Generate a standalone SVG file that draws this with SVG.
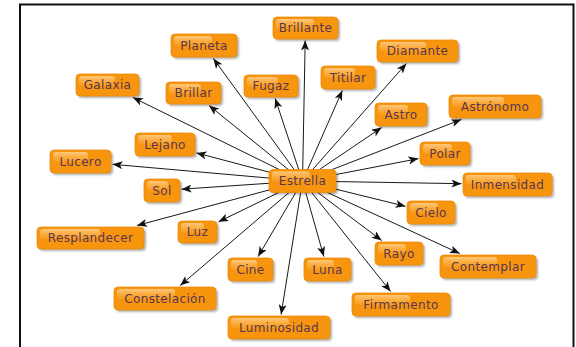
<svg xmlns="http://www.w3.org/2000/svg" width="576" height="347" viewBox="0 0 576 347">
<style>
.s{fill:#000;opacity:.3;filter:url(#blur)}
.b{fill:#f8950f;stroke:#ec8a05;stroke-width:.8}
.h{fill:url(#hl)}
text{font-family:"DejaVu Sans",Verdana,sans-serif;font-size:12px;fill:#5a3652;text-anchor:middle;letter-spacing:.35px}
.e line{stroke:#1a1a1a;stroke-width:1;marker-end:url(#ah)}
.frame{stroke:#111;stroke-width:2;fill:none}
</style>
<defs>
<filter id="blur" x="-20%" y="-30%" width="140%" height="160%"><feGaussianBlur stdDeviation="1"/></filter>
<linearGradient id="hl" x1="0" y1="0" x2="0" y2="1">
<stop offset="0" stop-color="#ffd9a0" stop-opacity=".75"/>
<stop offset="1" stop-color="#ffc060" stop-opacity=".15"/>
</linearGradient>
<marker id="ah" markerUnits="userSpaceOnUse" markerWidth="10" markerHeight="8" refX="10" refY="4" orient="auto">
<path d="M0,0 L10,4 L0,8 L2.5,4 z" fill="#111"/>
</marker>
</defs>
<path class="frame" d="M20,347 V4.5 H573.5 V347"/>
<g class="e" id="connectors">
<line x1="302.5" y1="181" x2="305.2" y2="40.5"/>
<line x1="302.5" y1="181" x2="213.4" y2="58.5"/>
<line x1="302.5" y1="181" x2="406.4" y2="63.5"/>
<line x1="302.5" y1="181" x2="132.9" y2="97.5"/>
<line x1="302.5" y1="181" x2="209" y2="105.5"/>
<line x1="302.5" y1="181" x2="275.2" y2="98.5"/>
<line x1="302.5" y1="181" x2="342.3" y2="90.5"/>
<line x1="302.5" y1="181" x2="381.7" y2="127.5"/>
<line x1="302.5" y1="181" x2="461.4" y2="119.5"/>
<line x1="302.5" y1="181" x2="196.5" y2="152.9"/>
<line x1="302.5" y1="181" x2="112.5" y2="164.3"/>
<line x1="302.5" y1="181" x2="418.5" y2="158.6"/>
<line x1="302.5" y1="181" x2="181.5" y2="189.2"/>
<line x1="302.5" y1="181" x2="461.5" y2="183.7"/>
<line x1="302.5" y1="181" x2="405.5" y2="206.3"/>
<line x1="302.5" y1="181" x2="137" y2="225.5"/>
<line x1="302.5" y1="181" x2="218.5" y2="221.8"/>
<line x1="302.5" y1="181" x2="258.1" y2="256.5"/>
<line x1="302.5" y1="181" x2="323.8" y2="256.5"/>
<line x1="302.5" y1="181" x2="381.7" y2="240.5"/>
<line x1="302.5" y1="181" x2="459.8" y2="253.5"/>
<line x1="302.5" y1="181" x2="180.2" y2="285.5"/>
<line x1="302.5" y1="181" x2="390.6" y2="291.5"/>
<line x1="302.5" y1="181" x2="281.1" y2="314.5"/>
</g>
<g id="n-brillante"><rect class="s" x="275" y="19" width="65" height="22" rx="4"/><rect class="b" x="273" y="17" width="65" height="22" rx="4"/><rect class="h" x="276" y="19" width="38" height="10" rx="3"/><text x="305.5" y="32">Brillante</text></g>
<g id="n-planeta"><rect class="s" x="173" y="36" width="66" height="23" rx="4"/><rect class="b" x="171" y="34" width="66" height="23" rx="4"/><rect class="h" x="174" y="36" width="38" height="10" rx="3"/><text x="204" y="49.5">Planeta</text></g>
<g id="n-diamante"><rect class="s" x="379" y="42" width="81" height="22" rx="4"/><rect class="b" x="377" y="40" width="81" height="22" rx="4"/><rect class="h" x="380" y="42" width="46" height="10" rx="3"/><text x="417.5" y="55">Diamante</text></g>
<g id="n-galaxia"><rect class="s" x="78" y="76" width="63" height="22" rx="4"/><rect class="b" x="76" y="74" width="63" height="22" rx="4"/><rect class="h" x="79" y="76" width="36" height="10" rx="3"/><text x="107.5" y="89">Galaxia</text></g>
<g id="n-brillar"><rect class="s" x="168" y="84" width="55" height="22" rx="4"/><rect class="b" x="166" y="82" width="55" height="22" rx="4"/><rect class="h" x="169" y="84" width="32" height="10" rx="3"/><text x="193.5" y="97">Brillar</text></g>
<g id="n-fugaz"><rect class="s" x="246" y="77" width="54" height="22" rx="4"/><rect class="b" x="244" y="75" width="54" height="22" rx="4"/><rect class="h" x="247" y="77" width="31" height="10" rx="3"/><text x="271" y="90">Fugaz</text></g>
<g id="n-titilar"><rect class="s" x="323" y="68" width="54" height="23" rx="4"/><rect class="b" x="321" y="66" width="54" height="23" rx="4"/><rect class="h" x="324" y="68" width="31" height="10" rx="3"/><text x="348" y="81.5">Titilar</text></g>
<g id="n-astro"><rect class="s" x="377" y="105" width="52" height="23" rx="4"/><rect class="b" x="375" y="103" width="52" height="23" rx="4"/><rect class="h" x="378" y="105" width="30" height="10" rx="3"/><text x="401" y="118.5">Astro</text></g>
<g id="n-astronomo"><rect class="s" x="451" y="97" width="92" height="23" rx="4"/><rect class="b" x="449" y="95" width="92" height="23" rx="4"/><rect class="h" x="452" y="97" width="52" height="10" rx="3"/><text x="495" y="110.5">Astrónomo</text></g>
<g id="n-lejano"><rect class="s" x="137" y="135" width="60" height="23" rx="4"/><rect class="b" x="135" y="133" width="60" height="23" rx="4"/><rect class="h" x="138" y="135" width="34" height="10" rx="3"/><text x="165" y="148.5">Lejano</text></g>
<g id="n-lucero"><rect class="s" x="52" y="152" width="61" height="23" rx="4"/><rect class="b" x="50" y="150" width="61" height="23" rx="4"/><rect class="h" x="53" y="152" width="35" height="10" rx="3"/><text x="80.5" y="165.5">Lucero</text></g>
<g id="n-polar"><rect class="s" x="422" y="144" width="50" height="23" rx="4"/><rect class="b" x="420" y="142" width="50" height="23" rx="4"/><rect class="h" x="423" y="144" width="29" height="10" rx="3"/><text x="445" y="157.5">Polar</text></g>
<g id="n-sol"><rect class="s" x="146" y="181" width="36" height="23" rx="4"/><rect class="b" x="144" y="179" width="36" height="23" rx="4"/><rect class="h" x="147" y="181" width="21" height="10" rx="3"/><text x="162" y="194.5">Sol</text></g>
<g id="n-inmensidad"><rect class="s" x="465" y="175" width="89" height="23" rx="4"/><rect class="b" x="463" y="173" width="89" height="23" rx="4"/><rect class="h" x="466" y="175" width="50" height="10" rx="3"/><text x="507.5" y="188.5">Inmensidad</text></g>
<g id="n-cielo"><rect class="s" x="409" y="203" width="48" height="23" rx="4"/><rect class="b" x="407" y="201" width="48" height="23" rx="4"/><rect class="h" x="410" y="203" width="28" height="10" rx="3"/><text x="431" y="216.5">Cielo</text></g>
<g id="n-resplandecer"><rect class="s" x="39" y="229" width="107" height="22" rx="4"/><rect class="b" x="37" y="227" width="107" height="22" rx="4"/><rect class="h" x="40" y="229" width="60" height="10" rx="3"/><text x="90.5" y="242">Resplandecer</text></g>
<g id="n-luz"><rect class="s" x="180" y="223" width="39" height="22" rx="4"/><rect class="b" x="178" y="221" width="39" height="22" rx="4"/><rect class="h" x="181" y="223" width="23" height="10" rx="3"/><text x="197.5" y="236">Luz</text></g>
<g id="n-cine"><rect class="s" x="230" y="260" width="45" height="23" rx="4"/><rect class="b" x="228" y="258" width="45" height="23" rx="4"/><rect class="h" x="231" y="260" width="26" height="10" rx="3"/><text x="250.5" y="273.5">Cine</text></g>
<g id="n-luna"><rect class="s" x="306" y="260" width="47" height="23" rx="4"/><rect class="b" x="304" y="258" width="47" height="23" rx="4"/><rect class="h" x="307" y="260" width="27" height="10" rx="3"/><text x="327.5" y="273.5">Luna</text></g>
<g id="n-rayo"><rect class="s" x="377" y="244" width="48" height="23" rx="4"/><rect class="b" x="375" y="242" width="48" height="23" rx="4"/><rect class="h" x="378" y="244" width="28" height="10" rx="3"/><text x="399" y="257.5">Rayo</text></g>
<g id="n-contemplar"><rect class="s" x="442" y="257" width="96" height="23" rx="4"/><rect class="b" x="440" y="255" width="96" height="23" rx="4"/><rect class="h" x="443" y="257" width="54" height="10" rx="3"/><text x="488" y="270.5">Contemplar</text></g>
<g id="n-constelacion"><rect class="s" x="116" y="289" width="102" height="23" rx="4"/><rect class="b" x="114" y="287" width="102" height="23" rx="4"/><rect class="h" x="117" y="289" width="58" height="10" rx="3"/><text x="165" y="302.5">Constelación</text></g>
<g id="n-firmamento"><rect class="s" x="354" y="295" width="98" height="23" rx="4"/><rect class="b" x="352" y="293" width="98" height="23" rx="4"/><rect class="h" x="355" y="295" width="55" height="10" rx="3"/><text x="401" y="308.5">Firmamento</text></g>
<g id="n-luminosidad"><rect class="s" x="230" y="318" width="102" height="23" rx="4"/><rect class="b" x="228" y="316" width="102" height="23" rx="4"/><rect class="h" x="231" y="318" width="58" height="10" rx="3"/><text x="279" y="331.5">Luminosidad</text></g>
<g id="n-estrella"><rect class="s" x="271" y="171.5" width="67" height="23" rx="4"/><rect class="b" x="269" y="169.5" width="67" height="23" rx="4"/><rect class="h" x="272" y="171.5" width="38" height="10" rx="3"/><text x="302.5" y="185">Estrella</text></g>
</svg>
